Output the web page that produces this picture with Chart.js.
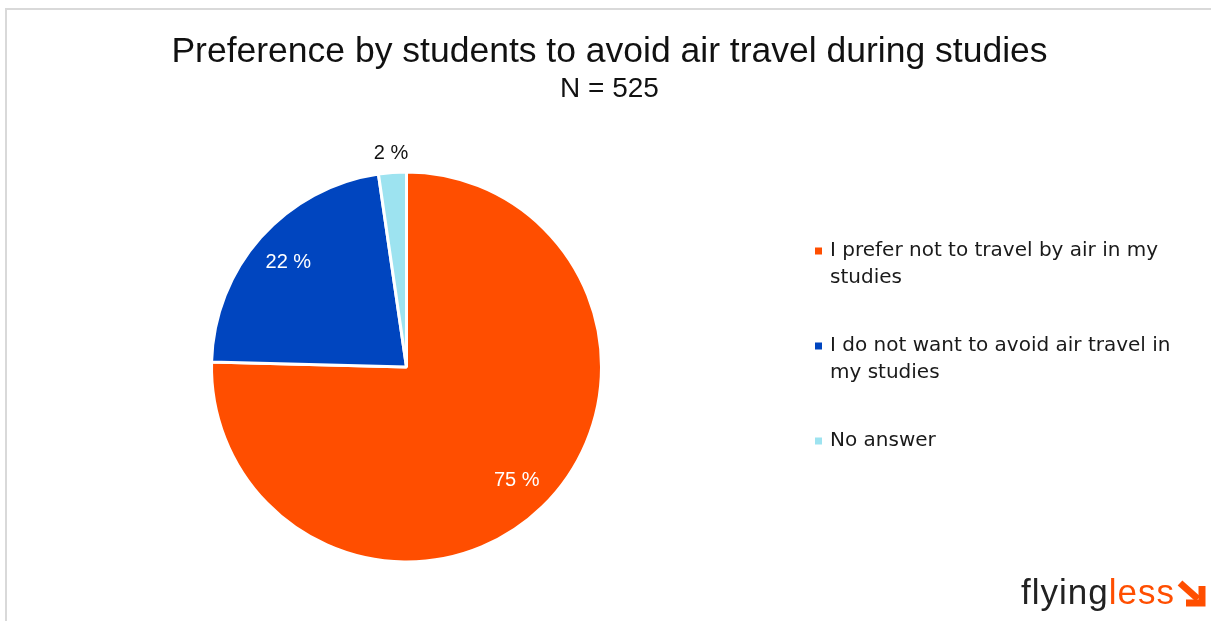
<!DOCTYPE html>
<html>
<head>
<meta charset="utf-8">
<script src="https://cdn.jsdelivr.net/npm/chart.js@4.4.1/dist/chart.umd.min.js"></script>
<style>
  body { margin: 0; background: #fff; width: 1211px; height: 621px; overflow: hidden; position: relative;
         font-family: "Liberation Sans", Arial, sans-serif; }
  #frame { position: absolute; left: 5px; top: 8px; width: 1300px; height: 700px;
           border-left: 2px solid #d9d9d9; border-top: 2px solid #d9d9d9; }
  #pie { position: absolute; left: 0; top: 0; }
  .head { position: absolute; left: 0; width: 1219px; text-align: center; color: #111; line-height: 1; white-space: nowrap; }
  #title { top: 33px; font-size: 35.5px; }
  #sub { top: 74px; font-size: 28px; }
  #logo { position: absolute; left: 1021px; top: 574px; font-size: 35px; line-height: 1; letter-spacing: 1px; white-space: nowrap; }
  #logo .fly { color: #222; }
  #logo .less { color: #FF4E00; }
  #arrow { position: absolute; left: 1177px; top: 580px; }
</style>
</head>
<body>
<div id="frame"></div>
<canvas id="pie" width="1211" height="621"></canvas>
<div class="head" id="title">Preference by students to avoid air travel during studies</div>
<div class="head" id="sub">N = 525</div>
<div id="logo"><span class="fly">flying</span><span class="less">less</span></div>
<svg id="arrow" width="30" height="28" viewBox="0 0 30 28">
  <line x1="3" y1="3" x2="21" y2="19" stroke="#FF4E00" stroke-width="7"/>
  <polyline points="25,6 25,23 9,23" fill="none" stroke="#FF4E00" stroke-width="7" stroke-linejoin="miter"/>
</svg>

<script>
// answers, one entry per slice (legend text split into its lines)
var categories = [
  ['I prefer not to travel by air in my', 'studies'],
  ['I do not want to avoid air travel in', 'my studies'],
  ['No answer']
];
var shares = [75.4, 22.3, 2.3];
var pctLabels = ['75 %', '22 %', '2 %'];
var sliceColors = ['#FF4E00', '#0045BF', '#9DE3F0'];

// percentage text on / next to each slice
var sliceLabels = {
  id: 'sliceLabels',
  afterDatasetsDraw: function (chart) {
    var ctx = chart.ctx;
    var meta = chart.getDatasetMeta(0);
    ctx.save();
    ctx.font = '20px "Liberation Sans", Arial, sans-serif';
    ctx.textAlign = 'center';
    ctx.textBaseline = 'middle';
    meta.data.forEach(function (arc, i) {
      var p = arc.getProps(['x', 'y', 'startAngle', 'endAngle', 'outerRadius'], true);
      var mid = (p.startAngle + p.endAngle) / 2;
      var outside = shares[i] < 5;
      var r = p.outerRadius * (outside ? 1.1 : 0.81);
      ctx.fillStyle = outside ? '#111' : '#fff';
      ctx.fillText(pctLabels[i], p.x + Math.cos(mid) * r, p.y + Math.sin(mid) * r);
    });
    ctx.restore();
  }
};

// legend on the right, labels wrap over two lines
var sideLegend = {
  id: 'sideLegend',
  afterDraw: function (chart) {
    var ctx = chart.ctx;
    var colors = chart.data.datasets[0].backgroundColor;
    var y = 251;
    ctx.save();
    ctx.font = '20px "DejaVu Sans", sans-serif';
    ctx.textBaseline = 'middle';
    chart.data.labels.forEach(function (lines, i) {
      ctx.fillStyle = colors[i];
      ctx.fillRect(815, y - 3.5, 7, 7);
      ctx.fillStyle = '#1a1a1a';
      lines.forEach(function (line, k) {
        ctx.fillText(line, 830, y + k * 27);
      });
      y += lines.length * 27 + 41;
    });
    ctx.restore();
  }
};

var pieChart = new Chart(document.getElementById('pie'), {
  type: 'pie',
  data: {
    labels: categories,
    datasets: [{
      data: shares,
      backgroundColor: sliceColors,
      borderColor: '#ffffff',
      borderWidth: 3
    }]
  },
  options: {
    responsive: false,
    animation: false,
    layout: { padding: { left: 210, top: 170, right: 608, bottom: 57 } },
    plugins: {
      legend: { display: false },
      tooltip: { enabled: false }
    }
  },
  plugins: [sliceLabels, sideLegend]
});
</script>
</body>
</html>
